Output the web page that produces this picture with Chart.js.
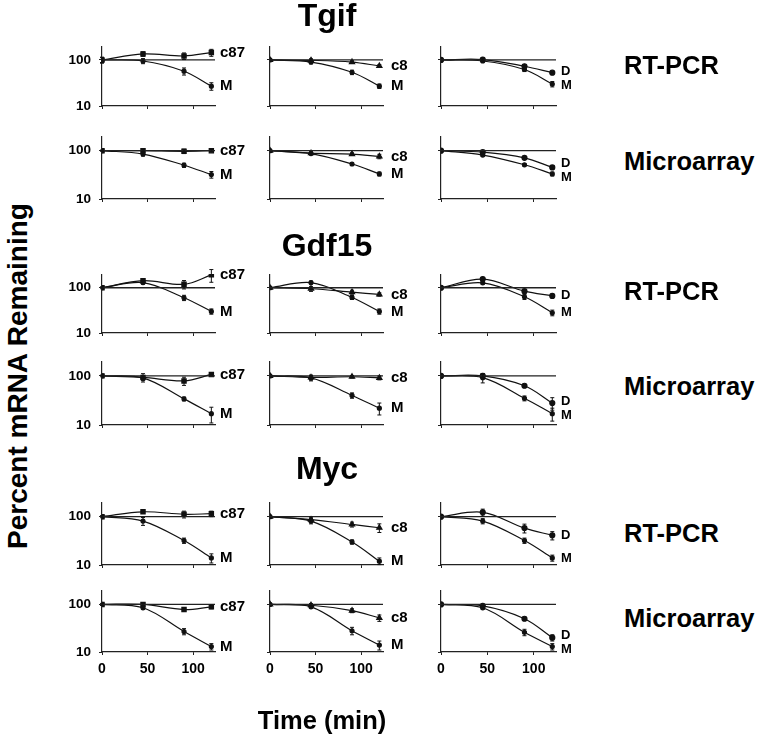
<!DOCTYPE html>
<html>
<head>
<meta charset="utf-8">
<script src="https://cdn.jsdelivr.net/npm/chart.js@4.4.1/dist/chart.umd.min.js"></script>
<style>
  body { margin: 0; background: #fff; }
  #fig { position: relative; width: 760px; height: 737px; overflow: hidden;
         font-family: 'Liberation Sans', Arial, sans-serif; font-weight: bold; color: #000; }
  #fig canvas { position: absolute; }
  .t { position: absolute; white-space: nowrap; line-height: 1; }
</style>
</head>
<body>
<div id="fig"></div>
<script>
// time points (min)
const times = [0, 45, 90, 120];
const xTicks = [0, 50, 100];
const yTicks = [10, 100];

// Tgif, RT-PCR
const tgifPcrC87 = [100, 135, 122, 145], tgifPcrC87Err = [12, 15, 20, 25];
const tgifPcrM87 = [100, 95, 57, 27],   tgifPcrM87Err = [15, 12, 10, 5];
const tgifPcrC8  = [100, 98, 90, 74],   tgifPcrC8Err  = [0, 8, 6, 5];
const tgifPcrM8  = [100, 90, 54, 27],   tgifPcrM8Err  = [0, 8, 6, 3];
const tgifPcrD   = [100, 102, 73, 53],  tgifPcrDErr   = [0, 4, 4, 3];
const tgifPcrMD  = [100, 95, 62, 30],   tgifPcrMDErr  = [0, 4, 6, 4];
// Tgif, microarray
const tgifArrC87 = [100, 100, 97, 100], tgifArrC87Err = [3, 4, 10, 4];
const tgifArrM87 = [100, 85, 50, 32],   tgifArrM87Err = [0, 8, 5, 5];
const tgifArrC8  = [100, 89, 85, 76],   tgifArrC8Err  = [0, 6, 5, 8];
const tgifArrM8  = [100, 87, 53, 33],   tgifArrM8Err  = [0, 4, 3, 3];
const tgifArrD   = [100, 93, 71, 45],   tgifArrDErr   = [0, 3, 3, 4];
const tgifArrMD  = [100, 81, 51, 33],   tgifArrMDErr  = [0, 4, 3, 3];
// Gdf15, RT-PCR
const gdfPcrC87 = [100, 143, 119, 192], gdfPcrC87Err = [5, 15, 25, 60];
const gdfPcrM87 = [100, 130, 60, 30],   gdfPcrM87Err = [0, 10, 8, 4];
const gdfPcrC8  = [100, 95, 80, 71],    gdfPcrC8Err  = [0, 12, 8, 6];
const gdfPcrM8  = [100, 130, 61, 30],   gdfPcrM8Err  = [0, 10, 6, 4];
const gdfPcrD   = [100, 155, 84, 66],   gdfPcrDErr   = [0, 8, 8, 6];
const gdfPcrMD  = [100, 128, 63, 28],   gdfPcrMDErr  = [0, 8, 8, 4];
// Gdf15, microarray
const gdfArrC87 = [100, 93, 79, 107],   gdfArrC87Err = [4, 18, 15, 5];
const gdfArrM87 = [100, 91, 34, 17],    gdfArrM87Err = [0, 10, 3, 6];
const gdfArrC8  = [100, 93, 96, 91],    gdfArrC8Err  = [0, 10, 5, 8];
const gdfArrM8  = [100, 91, 40, 22],    gdfArrM8Err  = [0, 12, 5, 6];
const gdfArrD   = [100, 100, 63, 28],   gdfArrDErr   = [0, 10, 4, 8];
const gdfArrMD  = [100, 92, 35, 17],    gdfArrMDErr  = [0, 20, 4, 5];
// Myc, RT-PCR
const mycPcrC87 = [100, 126, 112, 115], mycPcrC87Err = [5, 6, 18, 15];
const mycPcrM87 = [100, 81, 32, 14],    mycPcrM87Err = [0, 15, 4, 3];
const mycPcrC8  = [100, 87, 69, 59],    mycPcrC8Err  = [0, 10, 8, 12];
const mycPcrM8  = [100, 81, 30, 12],    mycPcrM8Err  = [0, 10, 3, 2];
const mycPcrD   = [100, 123, 58, 41],   mycPcrDErr   = [0, 20, 12, 8];
const mycPcrMD  = [100, 81, 32, 14],    mycPcrMDErr  = [0, 10, 4, 2];
// Myc, microarray
const mycArrC87 = [100, 100, 78, 89],   mycArrC87Err = [5, 6, 5, 8];
const mycArrM87 = [100, 85, 27, 13],    mycArrM87Err = [0, 6, 4, 2];
const mycArrC8  = [100, 96, 74, 52],    mycArrC8Err  = [0, 8, 7, 8];
const mycArrM8  = [100, 89, 28, 14],    mycArrM8Err  = [0, 5, 5, 3];
const mycArrD   = [100, 93, 50, 20],    mycArrDErr   = [0, 5, 4, 3];
const mycArrMD  = [100, 85, 26, 13],    mycArrMDErr  = [0, 5, 4, 2];

const rowData = [
  [[tgifPcrC87, tgifPcrC87Err, tgifPcrM87, tgifPcrM87Err], [tgifPcrC8, tgifPcrC8Err, tgifPcrM8, tgifPcrM8Err], [tgifPcrD, tgifPcrDErr, tgifPcrMD, tgifPcrMDErr]],
  [[tgifArrC87, tgifArrC87Err, tgifArrM87, tgifArrM87Err], [tgifArrC8, tgifArrC8Err, tgifArrM8, tgifArrM8Err], [tgifArrD, tgifArrDErr, tgifArrMD, tgifArrMDErr]],
  [[gdfPcrC87, gdfPcrC87Err, gdfPcrM87, gdfPcrM87Err], [gdfPcrC8, gdfPcrC8Err, gdfPcrM8, gdfPcrM8Err], [gdfPcrD, gdfPcrDErr, gdfPcrMD, gdfPcrMDErr]],
  [[gdfArrC87, gdfArrC87Err, gdfArrM87, gdfArrM87Err], [gdfArrC8, gdfArrC8Err, gdfArrM8, gdfArrM8Err], [gdfArrD, gdfArrDErr, gdfArrMD, gdfArrMDErr]],
  [[mycPcrC87, mycPcrC87Err, mycPcrM87, mycPcrM87Err], [mycPcrC8, mycPcrC8Err, mycPcrM8, mycPcrM8Err], [mycPcrD, mycPcrDErr, mycPcrMD, mycPcrMDErr]],
  [[mycArrC87, mycArrC87Err, mycArrM87, mycArrM87Err], [mycArrC8, mycArrC8Err, mycArrM8, mycArrM8Err], [mycArrD, mycArrDErr, mycArrMD, mycArrMDErr]]
];
const ctrlTags = ['c87', 'c8', 'D'];
const ctrlShapes = ['rect', 'triangle', 'circle'];

// panel geometry
const colX = [102, 270, 441];
const colW = [113, 113, 115];
const rowY100 = [52, 143, 280, 368, 509, 597];
const rowY10 = [106, 199, 333, 425, 565, 652];
const FONT = "'Liberation Sans', Arial, sans-serif";
const fig = document.getElementById('fig');

function txt(s, left, top, size, center) {
  const d = document.createElement('div');
  d.className = 't';
  d.textContent = s;
  d.style.left = left + 'px';
  d.style.top = top + 'px';
  d.style.fontSize = size + 'px';
  if (center) d.style.transform = 'translateX(-50%)';
  fig.appendChild(d);
  return d;
}

const extras = {
  id: 'extras',
  afterDatasetsDraw(chart) {
    const ctx = chart.ctx, xs = chart.scales.x, ys = chart.scales.y;
    ctx.save();
    ctx.strokeStyle = '#111';
    ctx.lineWidth = 1;
    const tags = [];
    chart.data.datasets.forEach(ds => {
      if (!ds.err) return;
      ds.data.forEach((p, i) => {
        const e = ds.err[i];
        if (!e) return;
        const x = xs.getPixelForValue(p.x);
        const y1 = ys.getPixelForValue(p.y + e);
        const y2 = ys.getPixelForValue(Math.max(p.y - e, 10.2));
        ctx.beginPath();
        ctx.moveTo(x, y1); ctx.lineTo(x, y2);
        ctx.moveTo(x - 2, y1); ctx.lineTo(x + 2, y1);
        ctx.moveTo(x - 2, y2); ctx.lineTo(x + 2, y2);
        ctx.stroke();
      });
      const last = ds.data[ds.data.length - 1];
      tags.push({ s: ds.tag, y: ys.getPixelForValue(last.y) });
    });
    tags.sort((a, b) => a.y - b.y);
    if (tags.length === 2 && tags[1].y - tags[0].y < 14) {
      const m = (tags[0].y + tags[1].y) / 2;
      tags[0].y = m - 7; tags[1].y = m + 7;
    }
    const o = chart.options.plugins.extras;
    ctx.fillStyle = '#000';
    ctx.font = 'bold ' + o.tagSize + 'px ' + FONT;
    ctx.textBaseline = 'middle';
    tags.forEach(t => ctx.fillText(t.s, chart.chartArea.right + o.tagGap, t.y));
    ctx.restore();
  }
};

rowData.forEach((row, r) => {
  const chartH = Math.round((rowY10[r] - rowY100[r]) * Math.log10(20));
  const top = rowY10[r] - chartH;
  row.forEach((set, c) => {
    const cv = document.createElement('canvas');
    const W = 45 + colW[c] + 45, H = 6 + chartH + 30;
    cv.width = W; cv.height = H;
    cv.style.left = (colX[c] - 45) + 'px';
    cv.style.top = (top - 6) + 'px';
    fig.appendChild(cv);
    const pts = v => times.map((t, i) => ({ x: t, y: v[i] }));
    new Chart(cv, {
      type: 'line',
      data: {
        datasets: [{
          data: [{ x: 0, y: 100 }, { x: 124, y: 100 }],
          borderColor: '#222', borderWidth: 1.3, pointRadius: 0, tension: 0
        }, {
          data: pts(set[0]), err: set[1], tag: ctrlTags[c],
          borderColor: '#111', borderWidth: 1.2, backgroundColor: '#111',
          pointStyle: ctrlShapes[c], pointRadius: c === 2 ? 2.5 : 3, tension: 0.35
        }, {
          data: pts(set[2]), err: set[3], tag: 'M',
          borderColor: '#111', borderWidth: 1.2, backgroundColor: '#111',
          pointStyle: 'circle', pointRadius: 2, tension: 0.35
        }]
      },
      options: {
        responsive: false,
        animation: false,
        layout: { padding: { top: 6, right: 45, left: 0, bottom: 0 } },
        plugins: {
          legend: { display: false },
          tooltip: { enabled: false },
          extras: { tagSize: c === 2 ? 13 : 15, tagGap: c === 1 ? 8 : 5 }
        },
        scales: {
          x: {
            type: 'linear', min: 0, max: 124,
            afterBuildTicks: s => { s.ticks = xTicks.map(v => ({ value: v })); },
            afterFit: s => { s.height = 30; },
            grid: { drawOnChartArea: false, tickLength: 3, color: '#222' },
            border: { color: '#222', width: 1.2 },
            ticks: {
              color: '#000', padding: 6, maxRotation: 0,
              font: { family: FONT, size: 14, weight: 'bold' },
              callback: v => (r === 5 ? String(v) : '')
            }
          },
          y: {
            type: 'logarithmic', min: 10, max: 200,
            afterBuildTicks: s => { s.ticks = yTicks.map(v => ({ value: v })); },
            afterFit: s => { s.width = 45; },
            grid: { drawOnChartArea: false, tickLength: 3, color: '#222' },
            border: { color: '#222', width: 1.2 },
            ticks: {
              color: '#000', padding: 8,
              font: { family: FONT, size: 13.5, weight: 'bold' },
              callback: v => (c === 0 ? String(v) : '')
            }
          }
        }
      },
      plugins: [extras]
    });
  });
});

// titles and labels
txt('Tgif', 327, -1, 32, true);
txt('Gdf15', 327, 229, 32, true);
txt('Myc', 327, 452, 32, true);
const assayTops = [53, 149, 279, 374, 521, 606];
['RT-PCR', 'Microarray', 'RT-PCR', 'Microarray', 'RT-PCR', 'Microarray']
  .forEach((s, i) => txt(s, 624, assayTops[i], 25.5, false));
txt('Time (min)', 322, 708, 25.5, true);
const yt = txt('Percent mRNA Remaining', 18, 376, 28, false);
yt.style.transform = 'translate(-50%, -50%) rotate(-90deg)';
</script>
</body>
</html>
